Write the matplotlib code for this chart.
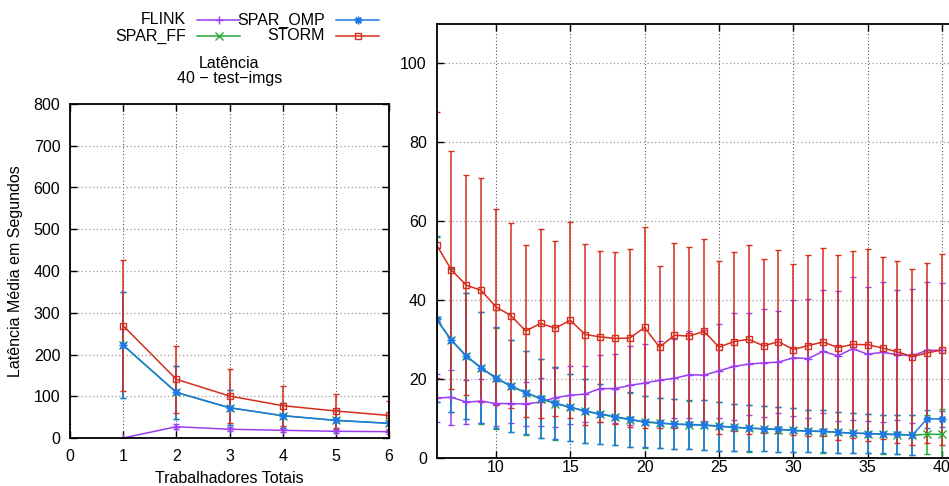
import matplotlib
matplotlib.use("Agg")
import matplotlib.pyplot as plt
from matplotlib.lines import Line2D

# ---------------- dados ----------------
trabalhadores = list(range(1, 41))

flink_media = [0, 27, 21, 18.4, 16, 15.2, 15.4, 14.2, 14.4, 13.8,
               13.8, 13.7, 14.2, 15.3, 15.9, 16.2, 17.6, 17.6, 18.4, 19.0,
               19.7, 20.2, 21.1, 21.0, 22.1, 23.2, 23.8, 24.1, 24.3, 25.4,
               25.2, 27.0, 25.9, 27.7, 26.3, 26.8, 26.2, 25.9, 27.3, 27.3]
flink_desvio = [0, 6, 5, 5, 5, 6, 7, 5.5, 5.5, 5.6,
                5, 5.5, 6.2, 7.4, 7.3, 7, 8.6, 8.8, 10, 10,
                10, 10, 11, 11.5, 11.9, 13.5, 13, 13.6, 13, 14.7,
                15, 15.5, 16.4, 18.1, 17, 17.8, 16.5, 17, 17.2, 17]

ff_media = [222.0, 109.0, 72.4, 53.3, 42.2, 35.1, 29.8, 25.8, 22.8, 20.2,
            18.2, 16.5, 15.0, 13.8, 12.8, 11.9, 11.1, 10.4, 9.7, 9.1,
            8.8, 8.6, 8.4, 8.3, 8.0, 7.8, 7.5, 7.4, 7.2, 7.0,
            6.8, 6.7, 6.5, 6.3, 6.2, 6.0, 5.9, 5.8, 6.0, 6.0]
ff_desvio = [127, 63, 42, 30, 24.5, 21, 18.2, 16, 14.1, 12.8,
             11.6, 10.7, 10, 9.2, 8.5, 8, 7.6, 7.2, 6.9, 6.5,
             6.3, 6.3, 6.1, 6.3, 6.2, 6.0, 5.9, 5.7, 5.7, 5.6,
             5.4, 5.4, 5.2, 5.0, 5.0, 4.9, 5.0, 5.0, 5.0, 6.5]

omp_media = [222.7, 109.4, 72.6, 53.5, 42.3, 35.2, 29.9, 25.9, 22.9, 20.3,
             18.3, 16.6, 15.1, 13.9, 12.9, 11.9, 11.2, 10.5, 9.8, 9.2,
             8.9, 8.6, 8.5, 8.4, 8.1, 7.8, 7.6, 7.4, 7.3, 7.0,
             6.8, 6.8, 6.5, 6.3, 6.2, 6.1, 6.0, 5.8, 9.9, 9.9]
omp_desvio = [127, 63.6, 42.4, 30, 24.5, 21, 18.2, 16, 14.1, 12.8,
              11.6, 10.6, 10, 9.2, 8.5, 8, 7.6, 7.2, 6.9, 6.5,
              6.3, 6.3, 6.1, 6.3, 6.2, 6.0, 5.9, 5.7, 5.7, 5.6,
              5.4, 5.4, 5.2, 5.0, 5.0, 4.9, 5.0, 5.0, 2.2, 2.0]

storm_media = [269, 140.6, 100.6, 77.4, 64.7, 54, 47.7, 43.8, 42.5, 38.3,
               36.1, 32.2, 34.1, 32.9, 34.9, 31.3, 30.7, 30.3, 30.4, 33.1,
               28.1, 31.1, 30.9, 32.1, 28.1, 29.5, 30.1, 28.4, 29.5, 27.5,
               28.5, 29.4, 28.0, 28.8, 28.7, 27.9, 26.9, 25.7, 26.6, 27.4]
storm_desvio = [157, 80, 64, 47.6, 40, 33.8, 30.1, 27.9, 28.4, 24.8,
                23.4, 21.8, 23.9, 22.2, 24.8, 23, 21.7, 21.8, 22.6, 25.5,
                20.6, 23.5, 22.6, 23.5, 21.9, 22.6, 23.9, 22.1, 23.2, 21.6,
                23, 23.7, 23.5, 23.7, 24.3, 23.1, 23.1, 22.3, 22.9, 24.2]

nomes = ["FLINK", "SPAR_FF", "SPAR_OMP", "STORM"]
cores = ["#9a3cf0", "#22a83a", "#1f78e6", "#d62d1c"]
marcadores = ["+", "x", (8, 2, 0), "s"]

series = [(flink_media, flink_desvio), (ff_media, ff_desvio),
          (omp_media, omp_desvio), (storm_media, storm_desvio)]

# ---------------- estilo ----------------
plt.rcParams["font.family"] = ["Liberation Sans", "DejaVu Sans"]
fs = 11.5
plt.rcParams["font.size"] = fs

W, H = 949, 486
fig = plt.figure(figsize=(W / 100, H / 100), dpi=100)

ax1 = fig.add_axes([70 / W, 1 - 438 / H, 319 / W, 334 / H])
ax2 = fig.add_axes([436.5 / W, 1 - 458 / H, 530 / W, 434 / H])


def tam(mk):
    return 5 if mk == "s" else 5.5


def desenha(ax):
    for (m, d), nome, c, mk in zip(series, nomes, cores, marcadores):
        ax.errorbar(trabalhadores, m, yerr=d, color=c, ecolor=c, lw=1.1,
                    elinewidth=1.1, capsize=2.2, capthick=1.1,
                    marker=mk, markersize=tam(mk),
                    markerfacecolor="none" if mk == "s" else c,
                    markeredgecolor=c, markeredgewidth=1.0, label=nome)
    ax.set_axisbelow(True)
    ax.grid(axis="x", color="#555555", linestyle=(0, (1, 2)), lw=0.8)
    ax.grid(axis="y", color="#999999", linestyle=(0, (1, 2)), lw=0.9)
    ax.tick_params(direction="in", length=5, width=1, top=True, right=True,
                   labelsize=fs, pad=7)
    for s in ax.spines.values():
        s.set_linewidth(1.3)


desenha(ax1)
ax1.set_xlim(0, 6)
ax1.set_ylim(0, 800)
ax1.set_xticks(range(0, 7))
ax1.set_yticks(range(0, 801, 100))
ax1.tick_params(axis="x", pad=8)

desenha(ax2)
px_unidade = (942 - 496) / 30
ax2.set_xlim(6, 6 + 530 / px_unidade)
ax2.set_ylim(0, 110)
ax2.set_xticks(range(10, 41, 5))
ax2.set_yticks(range(0, 101, 20))
ax2.tick_params(axis="x", pad=1.5)

# textos
fig.text(229.5 / W, 1 - 63 / H, "Latência", ha="center", va="center", fontsize=fs)
fig.text(229.5 / W, 1 - 79 / H, "40 \u2212 test\u2212imgs", ha="center", va="center", fontsize=fs)
fig.text(16 / W, 1 - 271 / H, "Latência Média em Segundos", rotation=90,
         ha="center", va="center", fontsize=fs)
fig.text(229.5 / W, 1 - 478 / H, "Trabalhadores Totais", ha="center", va="center", fontsize=fs)

# legenda (estilo gnuplot: texto justificado a direita, linha depois)
pos_leg = {"FLINK": (186, 20, 197), "SPAR_FF": (186, 36, 197),
           "SPAR_OMP": (325, 20, 336), "STORM": (325, 36, 336)}
for nome, c, mk in zip(nomes, cores, marcadores):
    xt, yt, xl = pos_leg[nome]
    fig.text(xt / W, 1 - yt / H, nome, ha="right", va="center", fontsize=fs)
    fig.add_artist(Line2D([xl / W, (xl + 43) / W], [1 - yt / H, 1 - yt / H],
                          transform=fig.transFigure, color=c, lw=1.1))
    fig.add_artist(Line2D([(xl + 21.5) / W], [1 - yt / H], transform=fig.transFigure,
                          color=c, marker=mk, markersize=tam(mk),
                          markerfacecolor="none" if mk == "s" else c,
                          markeredgewidth=1.0, lw=0))

fig.savefig("out.png", dpi=100)
